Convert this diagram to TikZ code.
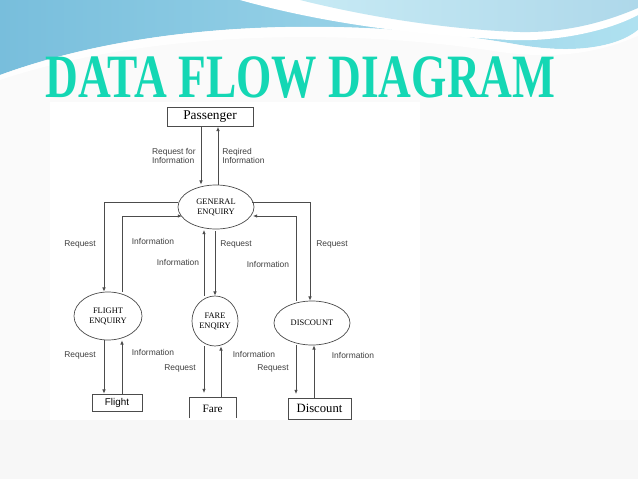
\documentclass[tikz,border=0pt]{standalone}
\usepackage{fontspec}
\setmainfont{Liberation Serif}
\newfontfamily\lsans{Liberation Sans}
\usetikzlibrary{arrows.meta,shapes.geometric}
\definecolor{sky}{RGB}{120,190,220}
\definecolor{skyl}{RGB}{175,225,240}
\definecolor{ttl}{RGB}{20,215,180}
\tikzset{
 flow/.style={draw=black!70,line width=0.5pt,-{Latex[length=3pt,width=2.5pt]}},
 line/.style={draw=black!70,line width=0.5pt},
 proc/.style={draw=black!70,ellipse,line width=0.5pt,font=\fontsize{6}{7}\selectfont,align=center,inner sep=0pt},
 ent/.style={draw=black!70,line width=0.5pt,inner sep=0pt},
 lbl/.style={font=\lsans\fontsize{6}{7}\selectfont,text=black!75,align=left,inner sep=0pt}
}
\begin{document}
\begin{tikzpicture}[x=0.025cm,y=-0.025cm]
\useasboundingbox (0,0) rectangle (638,479);
\fill[black!2] (0,0) rectangle (638,479);
% header swoosh
\shade[left color=sky,right color=skyl] (0,0) -- (0,75) .. controls (150,20) and (350,15) .. (520,45) .. controls (580,55) and (620,45) .. (638,30) -- (638,0) -- cycle;
\fill[white] (240,0) .. controls (330,25) and (420,35) .. (510,40) .. controls (560,42) and (610,30) .. (638,15) -- (638,0) -- cycle;
\shade[left color=skyl!70,right color=sky!60] (300,0) .. controls (380,20) and (460,30) .. (520,32) .. controls (570,33) and (610,20) .. (638,8) -- (638,0) -- cycle;
\fill[white,opacity=0.8] (0,75) .. controls (150,20) and (350,15) .. (520,45) .. controls (580,55) and (620,45) .. (638,30) -- (638,36) .. controls (600,52) and (560,60) .. (500,52) .. controls (350,28) and (150,30) .. (0,80) -- cycle;
\node[anchor=south west,inner sep=0pt,text=ttl,draw=none] (title) at (45,99) {\resizebox{12.75cm}{1.02cm}{\bfseries DATA FLOW DIAGRAM}};
% diagram area
\fill[white] (50,102) rectangle (420,420);
\node[ent,minimum width=86*0.025cm,minimum height=19*0.025cm,font=\fontsize{9.5}{10}\selectfont] (pas) at (210,117) {Passenger};
\node[proc,minimum width=76*0.025cm,minimum height=44*0.025cm] (ge) at (216,207) {GENERAL\\ENQUIRY};
\node[proc,minimum width=68*0.025cm,minimum height=48*0.025cm] (fe) at (108,316) {FLIGHT\\ENQUIRY};
\node[proc,minimum width=46*0.025cm,minimum height=50*0.025cm] (fa) at (215,321) {FARE\\ENQIRY};
\node[proc,minimum width=76*0.025cm,minimum height=44*0.025cm] (di) at (312,323) {DISCOUNT};
\node[ent,minimum width=50*0.025cm,minimum height=17*0.025cm,font=\lsans\fontsize{7}{8}\selectfont] (fl) at (117,402.5) {Flight};
\draw[line] (189,418) |- (236,397) -- (236,418);
\node[inner sep=0pt,font=\fontsize{8}{9}\selectfont] (fr) at (212.5,409) {Fare};
\node[ent,minimum width=63*0.025cm,minimum height=21*0.025cm,font=\fontsize{9}{10}\selectfont] (dc) at (319.5,408.5) {Discount};
% top flows
\draw[flow] (pas.south -| 201,0) -- (ge.north -| 201,0);
\draw[flow] (ge.north -| 218,0) -- (pas.south -| 218,0);
\node[lbl,anchor=east,align=left] (l1) at (196,156) {Request for\\Information};
\node[lbl,anchor=west] (l2) at (222,156) {Reqired\\Information};
% left
\draw[flow] (ge.west |- 0,202) -| (fe.north -| 104,0);
\draw[flow] (fe.north -| 122,0) |- (182,216);
% middle
\draw[flow] (fa.north -| 204,0) -- (204,230);
\draw[flow] (215,231) -- (fa.north -| 215,0);
% right
\draw[flow] (252,202) -| (di.north -| 310,0);
\draw[flow] (di.north -| 296,0) |- (253,216);
\node[lbl] (r1) at (80,244) {Request};
\node[lbl] (r2) at (153,241) {Information};
\node[lbl] (r3) at (178,262) {Information};
\node[lbl] (r4) at (236,244) {Request};
\node[lbl] (r5) at (268,264) {Information};
\node[lbl] (r6) at (332,244) {Request};
% bottom flows
\draw[flow] (fe.south -| 104,0) -- (fl.north -| 104,0);
\draw[flow] (fl.north -| 122,0) -- (fe.south -| 122,0);
\draw[flow] (fa.south -| 204,0) -- (204,393);
\draw[flow] (221,397) -- (fa.south -| 221,0);
\draw[flow] (di.south -| 296,0) -- (296,394);
\draw[flow] (dc.north -| 314,0) -- (di.south -| 314,0);
\node[lbl] (b1) at (80,355) {Request};
\node[lbl] (b2) at (153,352) {Information};
\node[lbl] (b3) at (180,368) {Request};
\node[lbl] (b4) at (254,354) {Information};
\node[lbl] (b5) at (273,368) {Request};
\node[lbl] (b6) at (353,355) {Information};
\fill[black!3] (0,420) rectangle (638,479);
\end{tikzpicture}
\end{document}
